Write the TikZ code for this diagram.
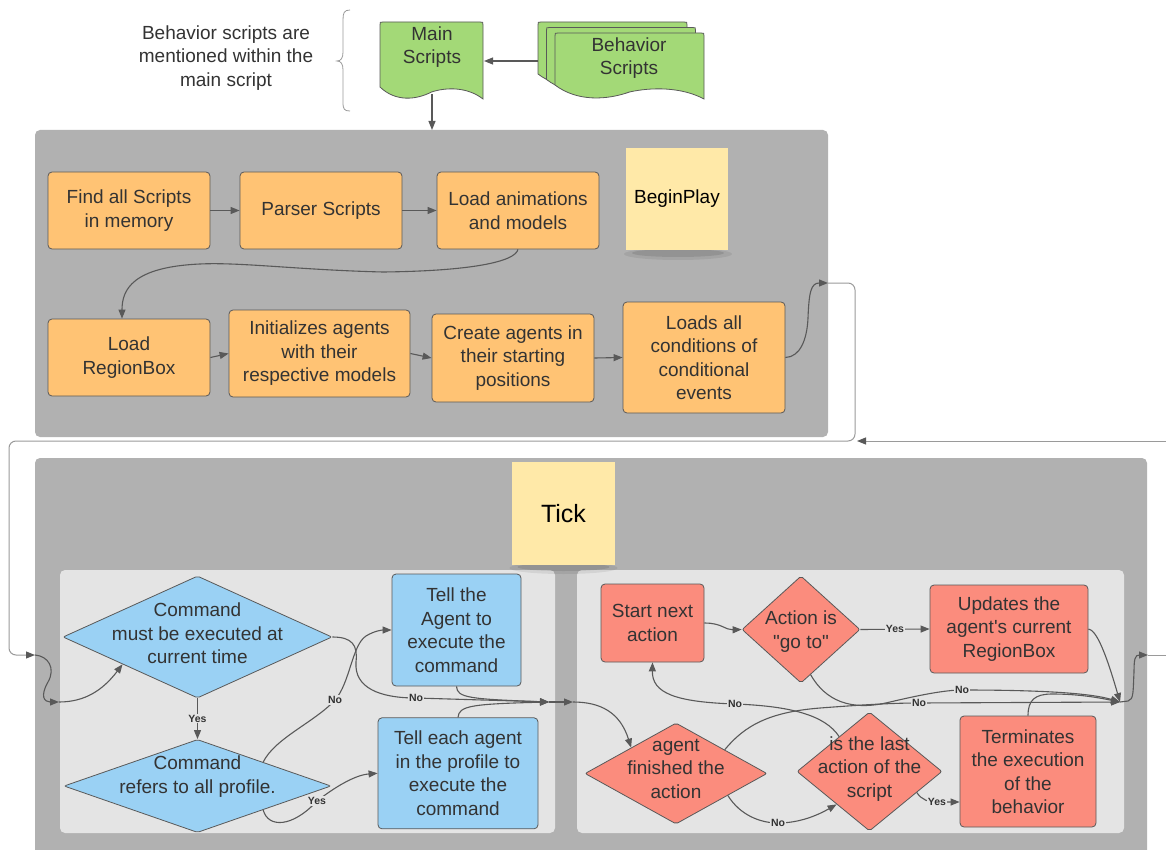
\documentclass[tikz,border=0pt]{standalone}
\usepackage{fontspec}
\setmainfont{Liberation Sans}
\usetikzlibrary{shapes.geometric,arrows.meta}
\definecolor{panel}{HTML}{B1B1B1}
\definecolor{inner}{HTML}{E4E4E4}
\definecolor{orangebox}{HTML}{FFC374}
\definecolor{bluebox}{HTML}{9AD1F4}
\definecolor{redbox}{HTML}{FB8C7D}
\definecolor{greendoc}{HTML}{A3D977}
\definecolor{sticky}{HTML}{FFE9A8}
\definecolor{edge}{HTML}{595959}
\definecolor{txt}{HTML}{333333}
\definecolor{loopc}{HTML}{9A9A9A}
\newcommand{\dgmfont}{\fontsize{19}{23.5}\selectfont}
\newcommand{\dgmsmall}{\fontsize{10.5}{12}\selectfont\bfseries}
\newcommand{\straightdq}{\XeTeXglyph\XeTeXcharglyph"0022\relax}
\newcommand{\straightsq}{\XeTeXglyph\XeTeXcharglyph"0027\relax}
\tikzset{
  conn/.style={draw=edge, line width=1.1pt, -{Triangle[length=9pt,width=7pt]}},
  loopline/.style={draw=loopc, line width=1pt, rounded corners=7pt},
  looparrow/.style={-{Triangle[length=9pt,width=7pt,color=edge]}},
  obox/.style={rectangle, rounded corners=4pt, draw=edge, line width=0.8pt, fill=orangebox, inner sep=0pt, align=center, text=txt, font=\dgmfont},
  bbox/.style={obox, fill=bluebox},
  rbox/.style={obox, fill=redbox},
  diam/.style={diamond, draw=edge, line width=0.8pt, inner sep=0pt, rounded corners=2pt},
  dtext/.style={align=center, text=txt, font=\dgmfont, inner sep=0pt},
  lbl/.style={font=\dgmsmall, text=txt, fill=inner, inner sep=1pt},
  stickynote/.style={rectangle, fill=sticky, inner sep=0pt, align=center, text=black},
  pics/doc/.style n args={3}{code={
    \filldraw[fill=greendoc, draw=edge, line width=0.8pt]
      (0,#2) -- (0,3) .. controls (0,0) .. (3,0) -- (#1-3,0) .. controls (#1,0) .. (#1,3) -- (#1,#3)
      .. controls (0.85*#1,#3-12) and (0.65*#1,#3-12) .. (0.5*#1,#3-7)
      .. controls (0.35*#1,#3+1) and (0.15*#1,#3+3) .. (0,#2) -- cycle;
  }}
}
\begin{document}
\begin{tikzpicture}[x=1pt,y=-1pt]
\useasboundingbox (0,0) rectangle (1166,850);
\fill[white] (0,0) rectangle (1166,850);

% ---- top note and brace
\node[dtext] (note) at (226,58) {Behavior scripts are\\mentioned within the\\main script};
\draw[draw=loopc, line width=0.8pt] (350,10) .. controls (344,10) and (343,13) .. (343,20) -- (343,52)
  .. controls (343,58) and (341,61) .. (337,61) .. controls (341,61) and (343,64) .. (343,70)
  -- (343,102) .. controls (343,109) and (344,111) .. (350,111);

% ---- documents
\pic at (538,22) {doc={149}{52}{66}};
\pic at (546.5,27.5) {doc={149}{52}{66}};
\pic at (555,33) {doc={149}{52}{66}};
\pic at (380,22) {doc={103}{65}{77}};
\node[dtext] (maintxt) at (432,47) {Main\\Scripts};
\node[dtext] (behtxt) at (629,58) {Behavior\\Scripts};
\coordinate (mainright) at (484,61);
\coordinate (behleft) at (538,61);
\coordinate (mainbot) at (432,94);
\coordinate (p1top) at (432,130);

% ---- panels
\fill[panel, rounded corners=5pt] (35,130) rectangle (828,437);
\fill[panel, rounded corners=5pt] (35,458) rectangle (1147,870);
\fill[inner, rounded corners=5pt] (60,570) rectangle (555,833);
\fill[inner, rounded corners=5pt] (577,570) rectangle (1124,833);

\draw[conn] (behleft) -- (mainright);
\draw[conn] (mainbot) -- (p1top);

% ---- sticky notes
\fill[black, opacity=0.07] (678,254) ellipse [x radius=54pt, y radius=6pt];
\fill[black, opacity=0.10] (678,253) ellipse [x radius=46pt, y radius=4pt];
\node[stickynote, minimum width=102, minimum height=102, font=\dgmfont] (beginplay) at (677,199) {BeginPlay};
\fill[black, opacity=0.07] (563.5,568) ellipse [x radius=54pt, y radius=6pt];
\fill[black, opacity=0.10] (563.5,567) ellipse [x radius=46pt, y radius=4pt];
\node[stickynote, minimum width=103, minimum height=103, font=\fontsize{25}{30}\selectfont] (tick) at (563.5,513.5) {Tick};

% ---- BeginPlay flow
\node[obox, minimum width=162, minimum height=77] (find) at (129,210.5) {Find all Scripts\\in memory};
\node[obox, minimum width=162, minimum height=77] (parser) at (321,210.5) {Parser Scripts};
\node[obox, minimum width=162, minimum height=77] (loadanim) at (518,210.5) {Load animations\\and models};
\node[obox, minimum width=162, minimum height=77] (regionbox) at (129,357.5) {Load\\RegionBox};
\node[obox, minimum width=181, minimum height=87] (init) at (319.5,353.5) {Initializes agents\\with their\\respective models};
\node[obox, minimum width=162, minimum height=88] (create) at (513,358) {Create agents in\\their starting\\positions};
\node[obox, minimum width=162, minimum height=111] (loadsall) at (704,357.5) {Loads all\\conditions of\\conditional\\events};

\draw[conn] (find) -- (parser);
\draw[conn] (parser) -- (loadanim);
\draw[conn] (loadanim.south) .. controls (515,262) and (470,271) .. (383,272)
  .. controls (300,270) and (240,262) .. (200,264) .. controls (132,267) and (122,290) .. ([xshift=-7pt]regionbox.north);
\draw[conn] (regionbox.east) -- (init.west);
\draw[conn] (init.east) -- (create.west);
\draw[conn] (create.east) -- (loadsall.west);
\coordinate (exit1) at (828,283);
\draw[conn] (loadsall.east) .. controls (800,357) and (807,340) .. (808,318) .. controls (809,292) and (811,283) .. (exit1);

% ---- loop line
\coordinate (entry2) at (35,655);
\coordinate (rin) at (1166,441);
\coordinate (rjoin) at (857,441);
\coordinate (exit2) at (1148,655);
\coordinate (rout) at (1166,655);
\draw[loopline, looparrow] (exit1) -- (855,283) -- (855,441) -- (9,441) -- (9,655) -- (entry2);
\draw[loopline, looparrow] (rin) -- (rjoin);

% ---- Tick left part
\node[diam, fill=bluebox, minimum width=269, minimum height=122] (d1) at (197.5,637) {};
\node[dtext] (d1t) at (197.5,633.5) {Command\\must be executed at\\current time};
\node[diam, fill=bluebox, minimum width=267, minimum height=93] (d2) at (197.5,786) {};
\node[dtext] (d2t) at (197.5,776.5) {Command\\refers to all profile.};
\node[bbox, minimum width=129, minimum height=112] (tell1) at (456.5,630) {Tell the\\Agent to\\execute the\\command};
\node[bbox, minimum width=160, minimum height=111] (tell2) at (458,773.3) {Tell each agent\\in the profile to\\execute the\\command};
\coordinate (e2a) at (59,702);
\coordinate (m1) at (549,702);
\coordinate (m2) at (573,702);

\draw[conn] (entry2) .. controls (48,656) and (56,668) .. (48,682) .. controls (40,696) and (44,702) .. (e2a);
\draw[conn] (e2a) .. controls (85,702) and (103,690) .. (d1.200);
\draw[conn] (d1.south) -- node[lbl] (ly1) {Yes} (d2.north);
\draw[conn] (d2.20) .. controls (275,738) and (315,722) .. (335,700) node[lbl] (ln6) {No}
  .. controls (350,683) and (352,645) .. (366,636) .. controls (374,631) and (382,630) .. (tell1.west);
\draw[conn] (d2.340) .. controls (268,828) and (292,828) .. (317,801) node[lbl] (ly2) {Yes}
  .. controls (335,787) and (355,775) .. (tell2.west);
\draw[conn] (d1.east) .. controls (352,637) and (358,645) .. (356,662) .. controls (354,688) and (380,698) .. (416,698) node[lbl] (ln7) {No} -- (m1);
\draw[conn] (tell1.south) .. controls (457,698) and (470,699) .. (m1);
\draw[conn] (tell2.north) .. controls (459,706) and (470,704) .. (m1);
\draw[conn] (m1) -- (m2);

% ---- Tick right part
\node[rbox, minimum width=103, minimum height=78] (start) at (652.5,623) {Start next\\action};
\node[diam, fill=redbox, minimum width=118, minimum height=107] (act) at (801,629.5) {};
\node[dtext] (actt) at (801,631.5) {Action is\\\straightdq go to\straightdq};
\node[rbox, minimum width=158, minimum height=88] (updates) at (1009,629) {Updates the\\agent\straightsq s current\\RegionBox};
\node[diam, fill=redbox, minimum width=182, minimum height=101] (agent) at (676,773.5) {};
\node[dtext] (agentt) at (676,768.5) {agent\\finished the\\action};
\node[diam, fill=redbox, minimum width=145, minimum height=119] (last) at (869.5,771.5) {};
\node[dtext] (lastt) at (869.5,769) {is the last\\action of the\\script};
\node[rbox, minimum width=136, minimum height=111] (term) at (1028,771.5) {Terminates\\the execution\\of the\\behavior};
\coordinate (mr) at (1120,702);

\draw[conn] (m2) .. controls (600,702) and (620,712) .. (agent.150);
\draw[conn] (start.east) .. controls (722,623) and (725,630) .. (act.west);
\draw[conn] (act.east) -- node[lbl] (ly3) {Yes} (updates.west);
\draw[conn] (updates.east) .. controls (1096,630) and (1105,650) .. (mr);
\draw[conn] (act.282) .. controls (825,700) and (850,712) .. (890,702) .. controls (920,695) and (945,690) .. (962,690) node[lbl] (ln2) {No}
  .. controls (1040,690) and (1090,693) .. (mr);
\draw[conn] (agent.26) .. controls (745,725) and (770,712) .. (820,708) .. controls (860,705) and (890,703) .. (919,703) node[lbl] (ln3) {No} -- (mr);
\draw[conn] (agent.337) .. controls (740,815) and (760,823) .. (778,823) node[lbl] (ln4) {No} .. controls (800,823) and (818,815) .. (last.225);
\draw[conn] (last.131) .. controls (825,715) and (790,706) .. (735,704) node[lbl] (ln5) {No} .. controls (675,702) and (652,693) .. (start.south);
\draw[conn] (last.336) .. controls (922,800) and (928,802) .. (937,802) node[lbl] (ly4) {Yes} -- (term.west |- ly4);
\draw[conn] (term.north) .. controls (1028,700) and (1035,694) .. (1052,694) .. controls (1080,694) and (1100,698) .. (mr);
\draw[conn] (mr) -- (1128,701) .. controls (1134,700) and (1133,690) .. (1134,672) .. controls (1134,659) and (1135,655) .. (exit2);
\draw[loopline] (exit2) -- (rout);
\end{tikzpicture}
\end{document}
